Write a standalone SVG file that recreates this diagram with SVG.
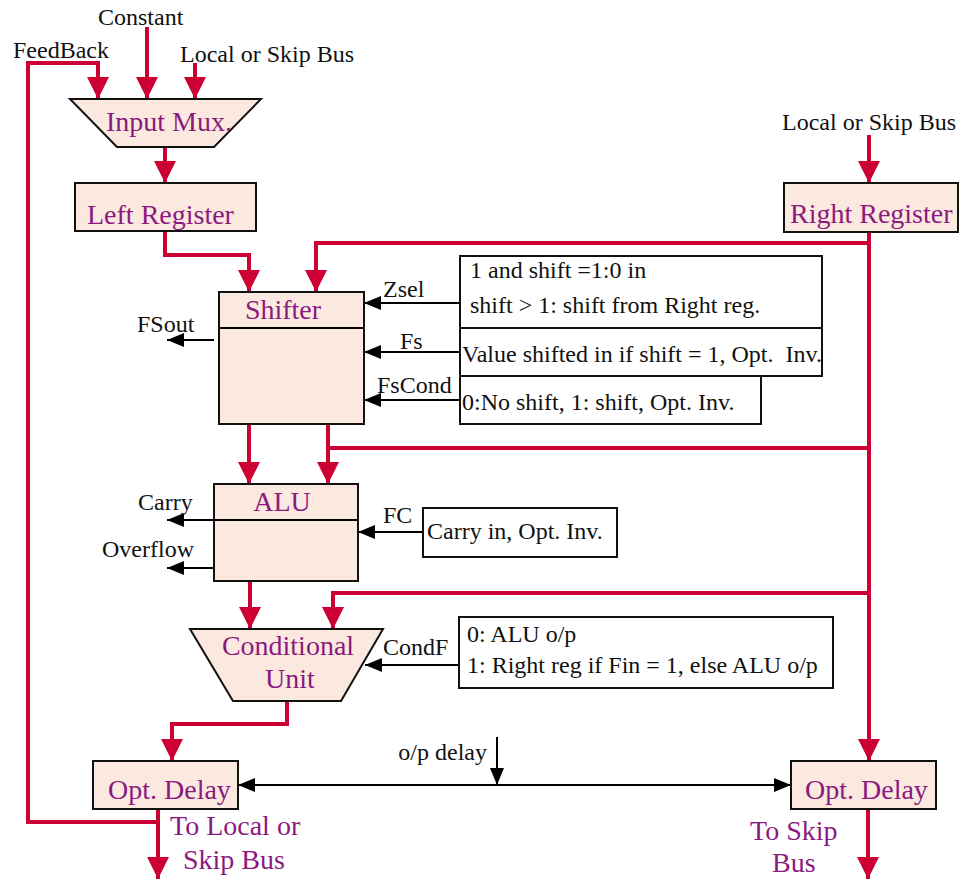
<svg xmlns="http://www.w3.org/2000/svg" width="960" height="879" viewBox="0 0 960 879">
<defs>
<marker id="ra" markerUnits="userSpaceOnUse" markerWidth="22" markerHeight="22" refX="22" refY="11" orient="auto"><path d="M0,0 L22,11 L0,22 z" fill="#cc0033"/></marker>
<marker id="ba" markerUnits="userSpaceOnUse" markerWidth="17" markerHeight="14" refX="17" refY="7" orient="auto-start-reverse"><path d="M0,0 L17,7 L0,14 z" fill="#000"/></marker>
</defs>
<style>
.blk{fill:#fbe9df;stroke:#111;stroke-width:2}
.box{fill:#fff;stroke:#111;stroke-width:2}
.red{fill:none;stroke:#cc0033;stroke-width:4}
.bl{fill:none;stroke:#000;stroke-width:2}
text{font-family:"Liberation Serif","Times New Roman",serif}
.t{font-size:24px;fill:#111}
.p{font-size:28px;fill:#8b1a80}
.m{text-anchor:middle}
</style>
<g id="connectors">
<path class="red" d="M158,822 H28 V63 H98 V99" marker-end="url(#ra)"/>
<path class="red" d="M147,27 V99" marker-end="url(#ra)"/>
<path class="red" d="M195,63 V99" marker-end="url(#ra)"/>
<path class="red" d="M165,147 V183" marker-end="url(#ra)"/>
<path class="red" d="M869,135 V183" marker-end="url(#ra)"/>
<path class="red" d="M165,231 V255 H249 V292" marker-end="url(#ra)"/>
<path class="red" d="M869,232 V761" marker-end="url(#ra)"/>
<path class="red" d="M869,243 H316 V292" marker-end="url(#ra)"/>
<path class="red" d="M249,424 V484" marker-end="url(#ra)"/>
<path class="red" d="M328,424 V484" marker-end="url(#ra)"/>
<path class="red" d="M869,448 H328"/>
<path class="red" d="M250,581 V629" marker-end="url(#ra)"/>
<path class="red" d="M869,593 H333 V629" marker-end="url(#ra)"/>
<path class="red" d="M287,701 V724 H172 V761" marker-end="url(#ra)"/>
<path class="red" d="M158,809 V879" marker-end="url(#ra)"/>
<path class="red" d="M868,809 V879" marker-end="url(#ra)"/>
<path class="bl" d="M214,340 H167" marker-end="url(#ba)"/>
<path class="bl" d="M460,303 H364" marker-end="url(#ba)"/>
<path class="bl" d="M460,352 H364" marker-end="url(#ba)"/>
<path class="bl" d="M460,400 H364" marker-end="url(#ba)"/>
<path class="bl" d="M214,520 H167" marker-end="url(#ba)"/>
<path class="bl" d="M214,568 H167" marker-end="url(#ba)"/>
<path class="bl" d="M423,532 H358" marker-end="url(#ba)"/>
<path class="bl" d="M459,665 H365" marker-end="url(#ba)"/>
<path class="bl" d="M238,785 H791" marker-start="url(#ba)" marker-end="url(#ba)"/>
<path class="bl" d="M497,737 V785" marker-end="url(#ba)"/>
</g>
<g id="labels">
<text class="t" x="98" y="25">Constant</text>
<text class="t" x="13" y="58">FeedBack</text>
<text class="t" x="180" y="62">Local or Skip Bus</text>
<text class="t" x="782" y="130">Local or Skip Bus</text>
<text class="t" x="137" y="332">FSout</text>
<text class="t" x="383" y="297">Zsel</text>
<text class="t" x="400" y="349">Fs</text>
<text class="t" x="377" y="393">FsCond</text>
<text class="t" x="138" y="510">Carry</text>
<text class="t" x="102" y="557">Overflow</text>
<text class="t" x="383" y="523">FC</text>
<text class="t" x="383" y="655">CondF</text>
<text class="t" x="487" y="760" text-anchor="end">o/p delay</text>
<text class="p" x="170" y="835">To Local or</text>
<text class="p" x="183" y="869">Skip Bus</text>
<text class="p" x="750" y="840">To Skip</text>
<text class="p" x="772" y="872">Bus</text>
</g>
<g id="input-mux">
<polygon class="blk" points="70,99 261,99 214,147 117,147"/>
<text class="p m" x="169" y="131">Input Mux.</text>
</g>
<g id="left-register">
<rect class="blk" x="75" y="183" width="181" height="48"/>
<text class="p" x="87" y="224">Left Register</text>
</g>
<g id="right-register">
<rect class="blk" x="784" y="183" width="174" height="49"/>
<text class="p" x="790" y="223">Right Register</text>
</g>
<g id="shifter">
<rect class="blk" x="219" y="292" width="145" height="132"/>
<line class="bl" x1="219" y1="328" x2="364" y2="328"/>
<text class="p m" x="283" y="319">Shifter</text>
</g>
<g id="zsel-box">
<rect class="box" x="460" y="256" width="362" height="72"/>
<text class="t" x="470" y="278">1 and shift =1:0 in</text>
<text class="t" x="470" y="313">shift &gt; 1: shift from Right reg.</text>
</g>
<g id="fs-box">
<rect class="box" x="460" y="328" width="362" height="48"/>
<text class="t" x="462" y="362">Value shifted in if shift = 1, Opt.&#160; Inv.</text>
</g>
<g id="fscond-box">
<rect class="box" x="460" y="376" width="301" height="48"/>
<text class="t" x="462" y="410">0:No shift, 1: shift, Opt. Inv.</text>
</g>
<g id="alu">
<rect class="blk" x="214" y="484" width="144" height="97"/>
<line class="bl" x1="214" y1="520" x2="358" y2="520"/>
<text class="p m" x="282" y="511">ALU</text>
</g>
<g id="fc-box">
<rect class="box" x="423" y="508" width="194" height="49"/>
<text class="t" x="427" y="539">Carry in, Opt. Inv.</text>
</g>
<g id="conditional-unit">
<polygon class="blk" points="190,629 383,629 341,701 233,701"/>
<text class="p m" x="288" y="655">Conditional</text>
<text class="p m" x="290" y="688">Unit</text>
</g>
<g id="condf-box">
<rect class="box" x="459" y="617" width="374" height="71"/>
<text class="t" x="467" y="642">0: ALU o/p</text>
<text class="t" x="467" y="673">1: Right reg if Fin = 1, else ALU o/p</text>
</g>
<g id="opt-delay-left">
<rect class="blk" x="93" y="761" width="145" height="48"/>
<text class="p" x="108" y="799">Opt. Delay</text>
</g>
<g id="opt-delay-right">
<rect class="blk" x="791" y="761" width="145" height="48"/>
<text class="p" x="805" y="799">Opt. Delay</text>
</g>
</svg>
